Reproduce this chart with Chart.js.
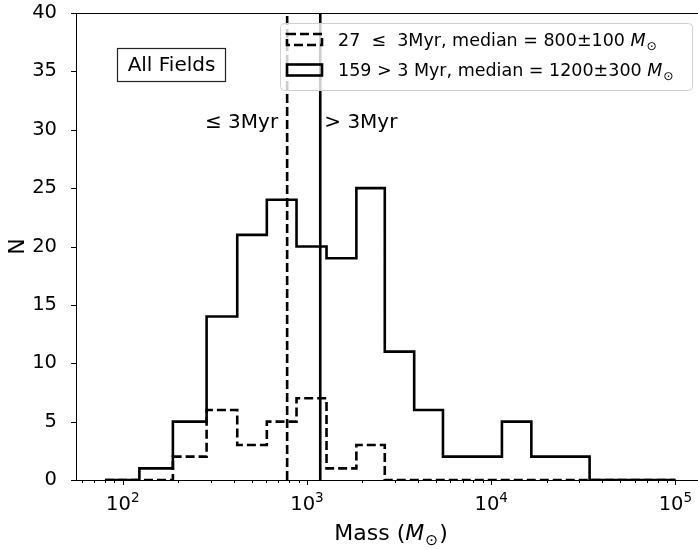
<!DOCTYPE html>
<html>
<head>
<meta charset="utf-8">
<script src="https://cdn.jsdelivr.net/npm/chart.js@4.4.1/dist/chart.umd.min.js"></script>
<style>
  html, body { margin: 0; padding: 0; background: #fff; overflow: hidden; }
  #wrap { width: 720px; height: 550px; }
</style>
</head>
<body>
<div id="wrap"><canvas id="massChart" width="720" height="550"></canvas></div>
<script>
// histogram bin edges (solar masses)
const binEdges = [80, 123, 187, 285, 418, 605, 877, 1276, 1853, 2643, 3817, 5470, 7925, 11430, 16510, 23770, 34200, 49200, 70800, 100000];
// counts per bin
const youngCounts = [0, 0, 2, 6, 3, 5, 7, 1, 3, 0, 0, 0, 0, 0, 0, 0, 0, 0, 0];
const oldCounts = [0, 1, 5, 14, 21, 24, 20, 19, 25, 11, 6, 2, 2, 5, 2, 2, 0, 0, 0];
// median masses (where the vertical lines sit)
const youngMedian = 780;
const oldMedian = 1180;

const legendLabels = ['27  \u2264  3Myr, median = 800\u00b1100 ', '159 > 3 Myr, median = 1200\u00b1300 '];
const xMajorTicks = [100, 1000, 10000, 100000];
const xTickValues = [60, 70, 80, 90, 100, 200, 300, 400, 500, 600, 700, 800, 900,
  1000, 2000, 3000, 4000, 5000, 6000, 7000, 8000, 9000,
  10000, 20000, 30000, 40000, 50000, 60000, 70000, 80000, 90000, 100000];
const yTickValues = [0, 5, 10, 15, 20, 25, 30, 35, 40];

const FONT = "'DejaVu Sans', sans-serif";
Chart.defaults.font.family = FONT;
Chart.defaults.color = '#000';

// outline of a step histogram: up at first edge, across each bin, down at last edge
function stepOutline(edges, counts) {
  const pts = [{ x: edges[0], y: 0 }];
  counts.forEach((c, i) => pts.push({ x: edges[i], y: c }));
  pts.push({ x: edges[edges.length - 1], y: 0 });
  return pts;
}

// draws "text M_sun" with italic M and subscript odot
function drawMsun(ctx, prefix, x, y, size, align) {
  const normal = size + 'px ' + FONT;
  const ital = 'italic ' + size + 'px ' + FONT;
  const sub = (size * 0.7) + 'px ' + FONT;
  ctx.font = normal; const w1 = ctx.measureText(prefix).width;
  ctx.font = ital; const w2 = ctx.measureText('M').width;
  ctx.font = sub; const w3 = ctx.measureText('\u2299').width;
  let suffix = align === 'center' ? ')' : '';
  ctx.font = normal; const w4 = ctx.measureText(suffix).width;
  let x0 = align === 'center' ? x - (w1 + w2 + w3 + w4) / 2 : x;
  ctx.textAlign = 'left';
  ctx.textBaseline = 'alphabetic';
  ctx.font = normal; ctx.fillText(prefix, x0, y);
  ctx.font = ital; ctx.fillText('M', x0 + w1, y);
  ctx.font = sub; ctx.fillText('\u2299', x0 + w1 + w2 + 1, y + size * 0.22);
  if (suffix) { ctx.font = normal; ctx.fillText(suffix, x0 + w1 + w2 + w3 + 2, y); }
}

const extras = {
  id: 'extras',
  afterDraw(chart) {
    const ctx = chart.ctx;
    const a = chart.chartArea;
    const xs = chart.scales.x, ys = chart.scales.y;
    ctx.save();
    ctx.strokeStyle = '#000';
    ctx.lineWidth = 1;
    ctx.strokeRect(a.left + 0.5, a.top + 0.5, a.right - a.left, a.bottom - a.top);
    // tick marks
    ctx.beginPath();
    xs.ticks.forEach(t => {
      const px = Math.round(xs.getPixelForValue(t.value)) + 0.5;
      const len = xMajorTicks.includes(t.value) ? 5 : 3;
      ctx.moveTo(px, a.bottom); ctx.lineTo(px, a.bottom + len);
    });
    yTickValues.forEach(v => {
      const py = Math.round(ys.getPixelForValue(v)) + 0.5;
      ctx.moveTo(a.left, py); ctx.lineTo(a.left - 5, py);
    });
    ctx.stroke();

    // x tick labels: 10 with a raised exponent
    ctx.fillStyle = '#000';
    ctx.textAlign = 'left';
    ctx.textBaseline = 'alphabetic';
    xMajorTicks.forEach(v => {
      const px = xs.getPixelForValue(v);
      const exp = String(Math.round(Math.log10(v)));
      ctx.font = '19.5px ' + FONT; const wb = ctx.measureText('10').width;
      ctx.font = '13.6px ' + FONT; const we = ctx.measureText(exp).width;
      const x0 = px - (wb + we) / 2;
      ctx.font = '19.5px ' + FONT; ctx.fillText('10', x0, a.bottom + 30);
      ctx.font = '13.6px ' + FONT; ctx.fillText(exp, x0 + wb, a.bottom + 21.5);
    });

    // x title
    drawMsun(ctx, 'Mass (', (a.left + a.right) / 2, 540, 22, 'center');

    // age labels beside the median lines
    ctx.font = '20px ' + FONT;
    ctx.textBaseline = 'middle';
    ctx.textAlign = 'right';
    ctx.fillText('\u2264 3Myr', xs.getPixelForValue(youngMedian) - 9, ys.getPixelForValue(30.6));
    ctx.textAlign = 'left';
    ctx.fillText('> 3Myr', xs.getPixelForValue(oldMedian) + 4, ys.getPixelForValue(30.6));

    // "All Fields" box
    ctx.fillStyle = '#fff';
    ctx.fillRect(a.left + 41.5, a.top + 35.5, 108, 33);
    ctx.strokeStyle = '#222';
    ctx.lineWidth = 1.2;
    ctx.strokeRect(a.left + 41.5, a.top + 35.5, 108, 33);
    ctx.fillStyle = '#000';
    ctx.textAlign = 'center';
    ctx.fillText('All Fields', a.left + 95.5, a.top + 52.5);

    // legend
    const lx = a.right - 424, ly = a.top + 10, lw = 412, lh = 67;
    ctx.beginPath();
    ctx.roundRect(lx + 0.5, ly + 0.5, lw, lh, 4);
    ctx.fillStyle = 'rgba(255,255,255,0.8)';
    ctx.fill();
    ctx.strokeStyle = '#d0d0d0';
    ctx.lineWidth = 1;
    ctx.stroke();
    const rows = [ly + 16.5, ly + 47];
    rows.forEach((cy, i) => {
      ctx.strokeStyle = '#000';
      ctx.lineWidth = 2.6;
      ctx.setLineDash(i === 0 ? [9, 4] : []);
      ctx.strokeRect(lx + 7, cy - 5.5, 35, 11);
      ctx.setLineDash([]);
      ctx.fillStyle = '#000';
      drawMsun(ctx, legendLabels[i], lx + 58, cy + 6.3, 17.5, 'left');
    });
    ctx.restore();
  }
};

const config = {
  type: 'line',
  data: {
    datasets: [
      { label: 'young', data: stepOutline(binEdges, youngCounts), stepped: true, borderDash: [9, 4] },
      { label: 'old', data: stepOutline(binEdges, oldCounts), stepped: true },
      { label: 'young median', data: [{ x: youngMedian, y: 0 }, { x: youngMedian, y: 40 }], borderDash: [9, 4] },
      { label: 'old median', data: [{ x: oldMedian, y: 0 }, { x: oldMedian, y: 40 }] }
    ]
  },
  options: {
    responsive: false,
    devicePixelRatio: 1,
    animation: false,
    layout: { padding: { left: 0, top: 13, right: 16, bottom: 0 } },
    elements: {
      line: { borderColor: '#000', borderWidth: 2.6, fill: false, tension: 0, borderJoinStyle: 'miter', borderCapStyle: 'butt' },
      point: { radius: 0, hoverRadius: 0 }
    },
    plugins: { legend: { display: false }, tooltip: { enabled: false } },
    scales: {
      x: {
        type: 'logarithmic',
        min: 55.7,
        max: 142900,
        grid: { display: false },
        border: { display: false },
        afterBuildTicks: s => { s.ticks = xTickValues.map(v => ({ value: v })); },
        afterFit: s => { s.height = 70; s.paddingLeft = 0; s.paddingRight = 0; },
        ticks: { autoSkip: false, maxRotation: 0, minRotation: 0, callback: () => '' }
      },
      y: {
        min: 0,
        max: 40,
        grid: { display: false },
        border: { display: false },
        afterBuildTicks: s => { s.ticks = yTickValues.map(v => ({ value: v })); },
        afterFit: s => { s.width = 76; s.paddingTop = 0; s.paddingBottom = 0; },
        ticks: { padding: 11, font: { size: 19.5 } },
        title: { display: true, text: 'N', font: { size: 22 }, padding: { top: 5, bottom: 0 } }
      }
    }
  },
  plugins: [extras]
};

window.onload = function () {
  const ctx = document.getElementById('massChart').getContext('2d');
  new Chart(ctx, config);
};
</script>
</body>
</html>
